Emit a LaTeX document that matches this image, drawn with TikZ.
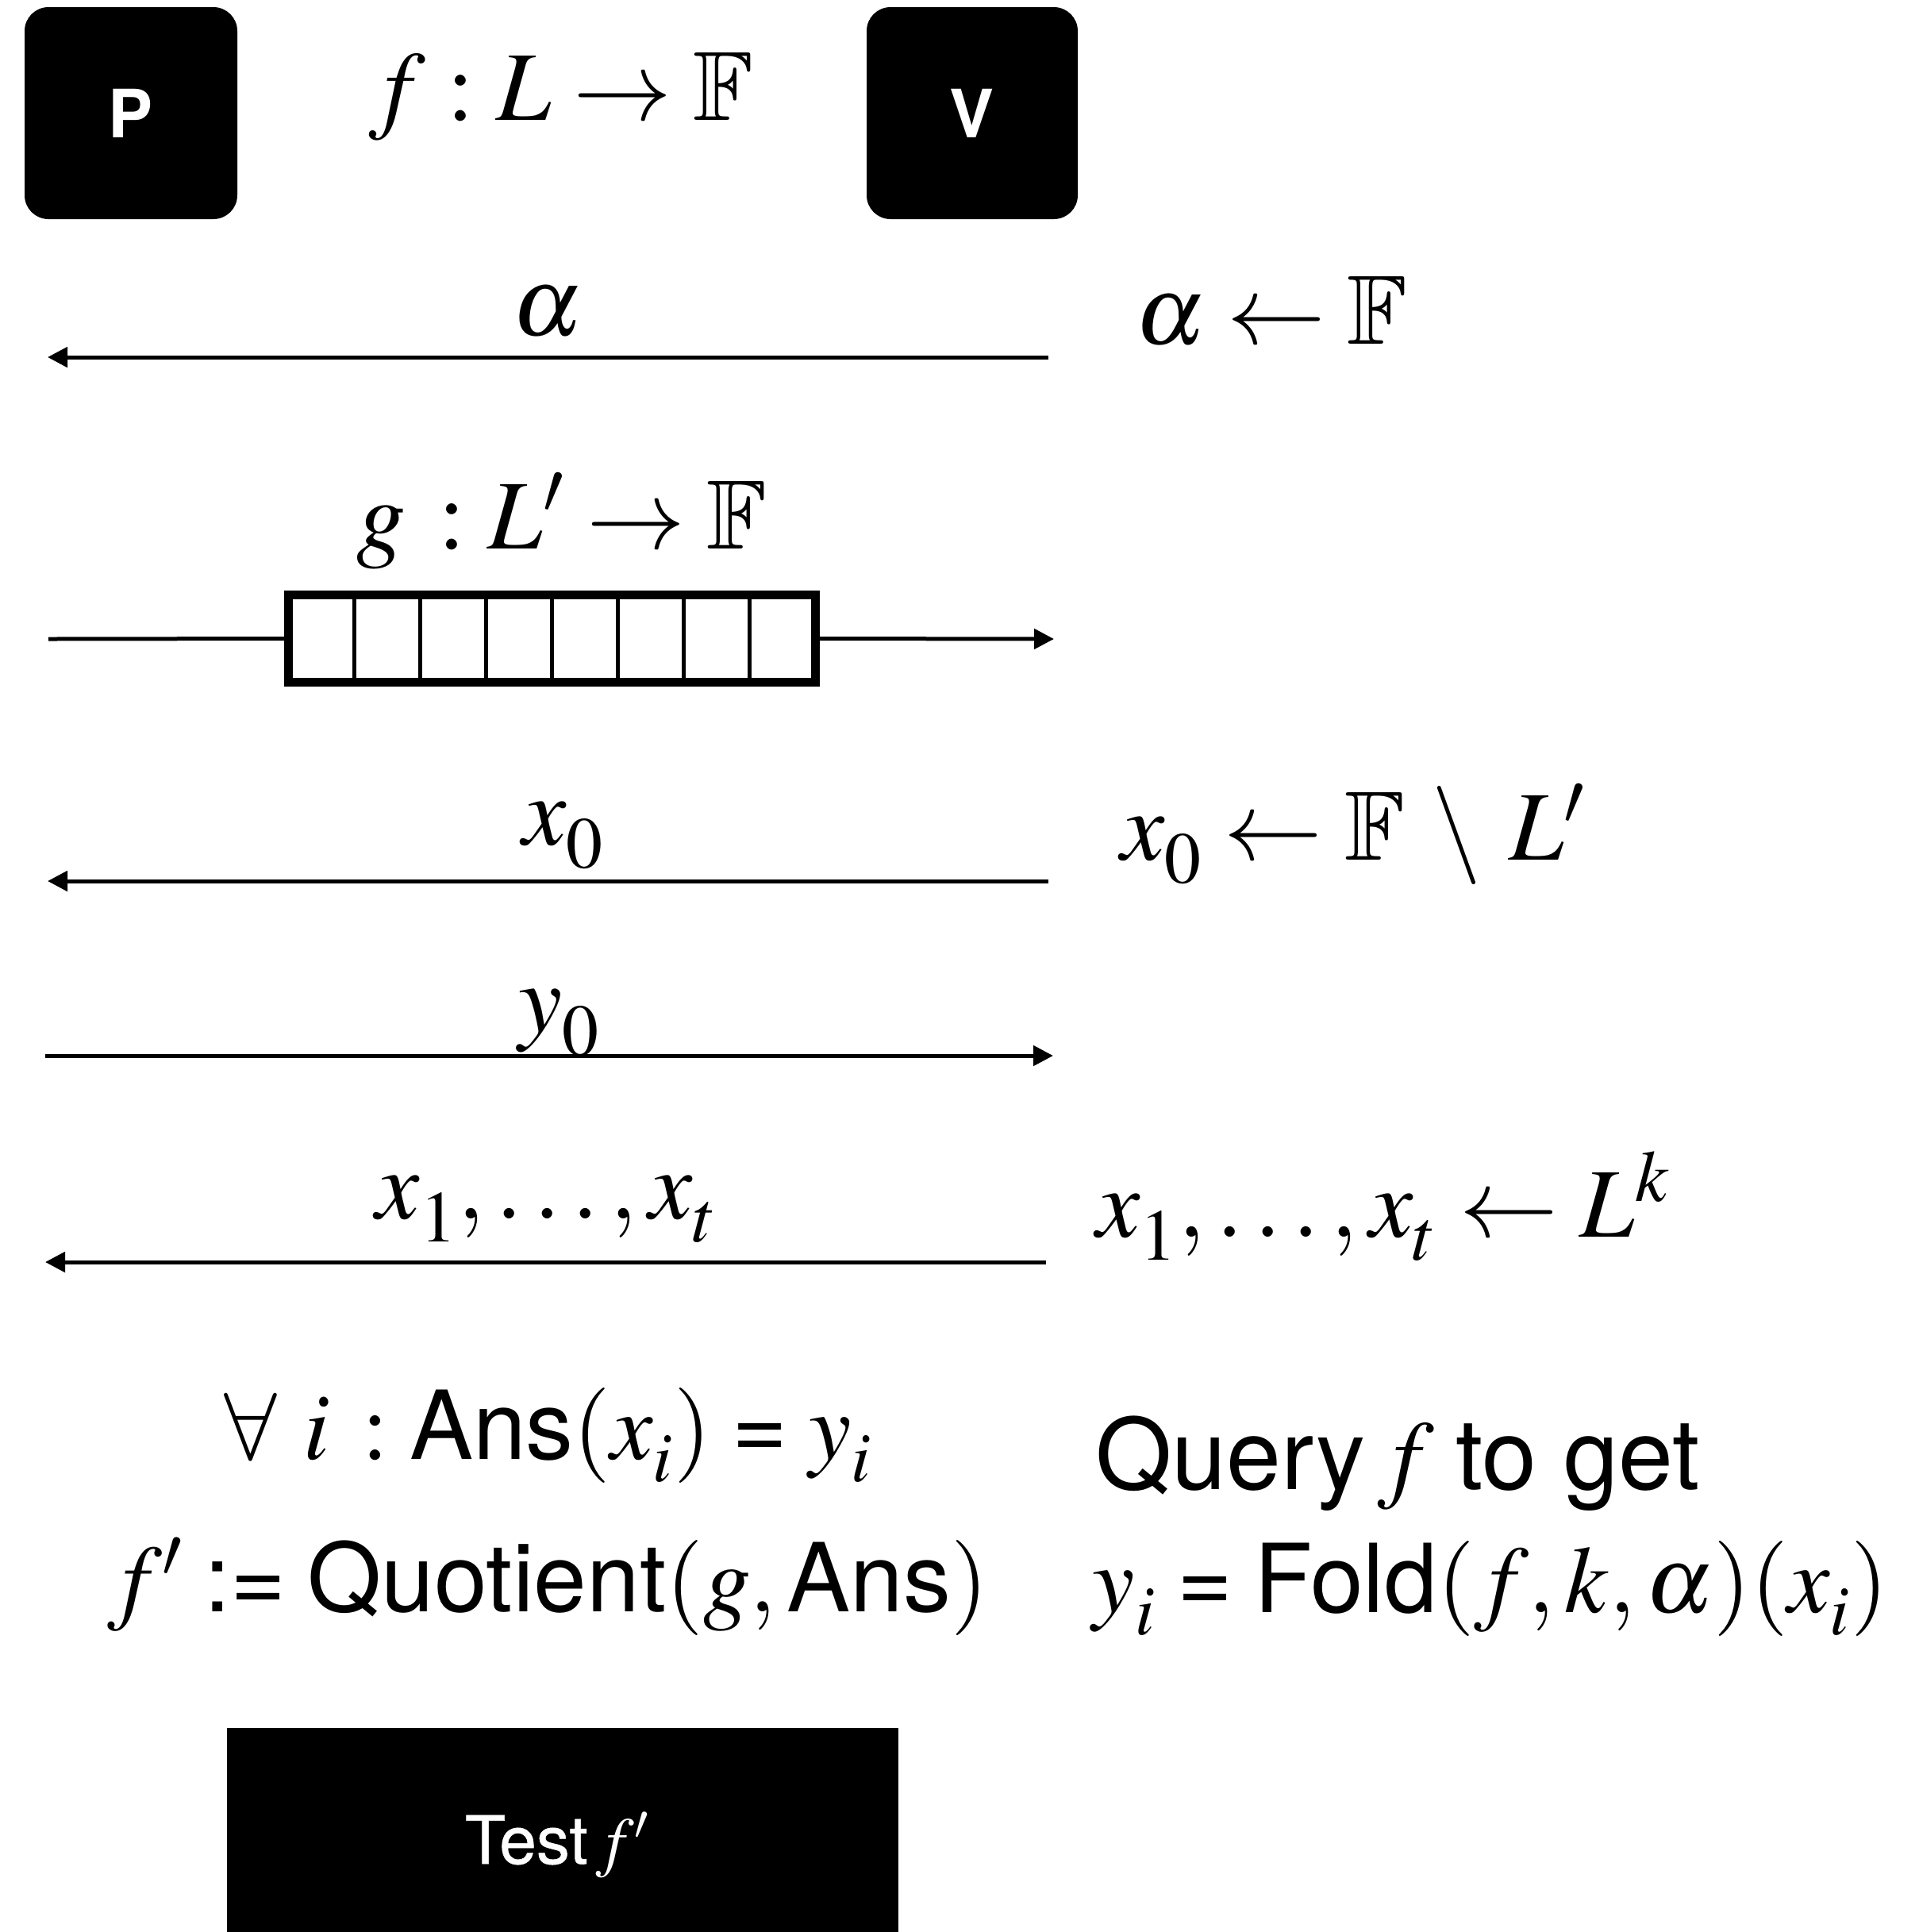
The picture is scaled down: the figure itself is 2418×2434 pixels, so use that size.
\documentclass[tikz,border=0pt]{standalone}
\usepackage{amsmath,amssymb}
\usepackage{mathptmx}
\usepackage[no-math]{fontspec}
\setmainfont{TeX Gyre Heros}
\newfontfamily\medfont[FakeBold=0.6]{TeX Gyre Heros}
\usetikzlibrary{arrows.meta,calc}
\newcommand{\dsub}[1]{_{\raisebox{-0.09em}{$\scriptstyle #1$}}}
\newcommand{\seq}{\mathrel{\text{=}}}
\newcommand{\defeq}{\mathrel{\text{:=}}}
\begin{document}
\begin{tikzpicture}[x=0.25pt,y=-0.25pt,
  party/.style={fill=black, rounded corners=7.5pt, minimum height=66.75pt, inner sep=0pt, outer sep=0pt,
    text=white, font=\fontsize{21pt}{25pt}\selectfont\bfseries},
  lbl/.style={font=\fontsize{31pt}{37pt}\selectfont, anchor=base, inner sep=0pt},
  txt/.style={font=\fontsize{30pt}{36pt}\selectfont, anchor=base, inner sep=0pt},
  msg/.style={line width=1.25pt, -{Triangle[length=6.25pt,width=6.25pt]}},
  plain/.style={line width=1.25pt},
  gboxst/.style={draw=black, line width=2.75pt, minimum width=166pt, minimum height=27.5pt, inner sep=0pt, outer sep=0pt},
  cellline/.style={line width=1.1pt},
  testbox/.style={fill=black, minimum width=211.5pt, minimum height=64.25pt, inner sep=0pt, outer sep=0pt},
  testlbl/.style={text=white, font=\fontsize{21pt}{25pt}\selectfont\medfont, anchor=base, inner sep=0pt}]
\useasboundingbox (0,0) rectangle (2418,2434);

% parties
\node[party, minimum width=67pt] (P) at (165,142.5) {P};
\node[party, minimum width=66.5pt] (V) at (1225,142.5) {V};
\node[lbl] (fL) at (707,151) {$f : L \to \mathbb{F}$};

% alpha
\coordinate (a1s) at (1321,450);
\coordinate (a1e) at (60,450);
\draw[msg] (a1s) -- (a1e);
\node[lbl] (alab) at (690,422) {$\alpha$};
\node[lbl] (aR) at (1602,433) {$\alpha \leftarrow \mathbb{F}$};

% g
\node[lbl] (gL) at (708,691) {$g\,: L' \to \mathbb{F}$};
\node[gboxst] (gbox) at (695.5,804.5) {};
\foreach \k in {1,...,7}
  \draw[cellline] ($(gbox.north west)!\k/8!(gbox.north east)$) -- ($(gbox.south west)!\k/8!(gbox.south east)$);
\coordinate (gin) at (61,805);
\coordinate (gout) at (1328,805);
\draw[plain] (gin) -- (gbox.west);
\draw[msg] (gbox.east) -- (gout);

% x0
\coordinate (x0s) at (1321,1110);
\coordinate (x0e) at (60,1110);
\draw[msg] (x0s) -- (x0e);
\node[lbl] (x0lab) at (710,1064) {$x\dsub{0}$};
\node[lbl] (x0R) at (1705,1083) {$x\dsub{0} \leftarrow \mathbb{F}\ \backslash\ L'$};

% y0
\coordinate (y0s) at (57,1330);
\coordinate (y0e) at (1327,1330);
\draw[msg] (y0s) -- (y0e);
\node[lbl] (y0lab) at (705,1300) {$y\dsub{0}$};

% x1..xt
\coordinate (xts) at (1318,1590);
\coordinate (xte) at (57,1590);
\draw[msg] (xts) -- (xte);
\node[lbl] (xtlab) at (689,1535) {$x\dsub{1}, \ldots, x\dsub{t}$};
\node[lbl] (xtR) at (1743,1558) {$x\dsub{1}, \ldots, x\dsub{t} \leftarrow L^k$};

% bottom text
\node[txt] (ans) at (691,1838) {$\forall\ i\,: \text{Ans}(x\dsub{i}) \seq y\dsub{i}$};
\node[txt] (quot) at (690,2030) {$f' \defeq \text{Quotient}(g, \text{Ans})$};
\node[txt, font=\fontsize{31pt}{37pt}\selectfont] (query) at (1761,1876) {Query\hspace{0.12em}$f$\hspace{0.22em}to get};
\node[txt] (fold) at (1878,2031) {$y\dsub{i} \seq \text{Fold}(f, k, \alpha)(x\dsub{i})$};

% test
\node[testbox] (test) at (709,2305.5) {};
\node[testlbl] (testlab) at (702,2348) {Test\hspace{0.12em}$f'$};
\end{tikzpicture}
\end{document}
